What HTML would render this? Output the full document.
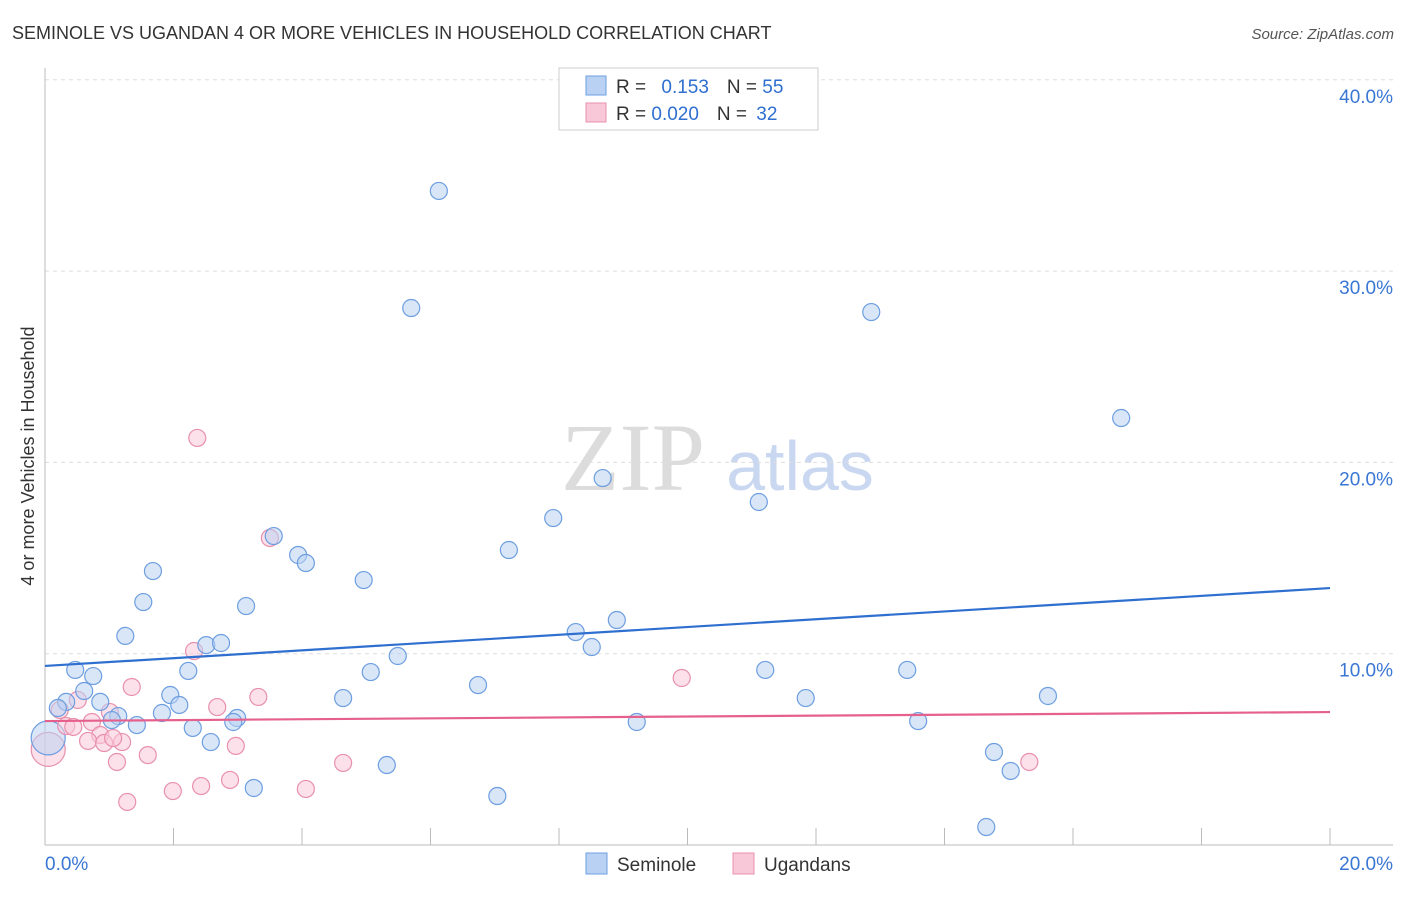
<!DOCTYPE html>
<html><head><meta charset="utf-8"><style>
body{margin:0;background:#fff;font-family:"Liberation Sans",sans-serif}
</style></head><body>
<svg id="c" width="1406" height="892" font-family="Liberation Sans, sans-serif">
<text x="12" y="39" font-size="18" fill="#333">SEMINOLE VS UGANDAN 4 OR MORE VEHICLES IN HOUSEHOLD CORRELATION CHART</text>
<text x="1394" y="39" font-size="15" fill="#555" font-style="italic" text-anchor="end">Source: ZipAtlas.com</text>
<text x="633" y="490" font-size="96" fill="#dcdcdc" style="font-family:'Liberation Serif',serif" text-anchor="middle">ZIP</text>
<text x="800" y="490" font-size="70" fill="#c9d8f0" text-anchor="middle">atlas</text>
<text transform="translate(34,456) rotate(-90)" font-size="18" fill="#333" text-anchor="middle">4 or more Vehicles in Household</text>
<g id="grid"></g><g id="pts"></g><g id="lines"></g>
<g>
<rect x="559" y="68" width="259" height="62" fill="#fff" stroke="#ccc"/>
<rect x="586" y="76" width="20" height="19" fill="#b9d2f3" stroke="#6d9ee0"/>
<rect x="586" y="103" width="20" height="19" fill="#f9c8d8" stroke="#e890ad"/>
<text x="616" y="93" font-size="19" fill="#333">R = <tspan fill="#2e6fd0" dx="10">0.153</tspan><tspan dx="18" fill="#333">N = </tspan><tspan fill="#2e6fd0">55</tspan></text>
<text x="616" y="120" font-size="19" fill="#333">R = <tspan fill="#2e6fd0">0.020</tspan><tspan dx="18" fill="#333">N = </tspan><tspan fill="#2e6fd0" dx="4">32</tspan></text>
</g>
<g>
<rect x="586" y="853" width="21" height="21" fill="#b9d2f3" stroke="#6d9ee0"/>
<text x="617" y="871" font-size="19" fill="#333">Seminole</text>
<rect x="733" y="853" width="21" height="21" fill="#f9c8d8" stroke="#e890ad"/>
<text x="764" y="871" font-size="19" fill="#333">Ugandans</text>
</g>
</svg>
<script>
const blueX=[6.13,5.70,12.86,16.75,8.68,11.11,7.91,7.22,3.56,3.94,4.06,4.96,1.68,1.53,3.13,8.90,8.26,8.51,1.25,2.51,2.74,5.49,0.47,0.75,2.23,5.07,11.21,13.42,6.74,0.61,1.95,4.64,11.84,15.61,0.33,2.09,0.20,0.86,1.14,1.82,1.04,2.99,2.93,1.43,9.21,13.59,2.30,2.58,14.77,5.32,15.03,3.25,7.04,14.65];
const blueY=[34.19,28.07,27.86,22.32,19.18,17.93,17.09,15.42,16.15,15.16,14.74,13.85,14.32,12.70,12.49,11.76,11.13,10.35,10.93,10.45,10.56,9.88,9.15,8.83,9.10,9.04,9.15,9.15,8.36,8.05,7.84,7.68,7.68,7.79,7.48,7.32,7.16,7.48,6.74,6.90,6.53,6.64,6.43,6.27,6.43,6.48,6.12,5.38,4.86,4.18,3.87,2.98,2.56,0.94];
const pinkX=[2.37,3.50,2.32,9.91,1.35,3.32,0.51,2.68,1.01,0.23,0.33,0.73,0.86,0.44,0.67,0.92,1.20,1.06,2.97,1.60,1.12,4.64,15.32,2.88,2.43,1.99,4.06,1.28];
const pinkY=[21.28,16.05,10.14,8.73,8.26,7.74,7.58,7.21,6.95,7.06,6.22,6.43,5.75,6.17,5.44,5.33,5.38,5.59,5.18,4.70,4.34,4.29,4.34,3.40,3.08,2.82,2.93,2.25];
const bigBlue=[0.05,5.6], bigPink=[0.05,5.0];
const blueTrend=[9.36,13.43], pinkTrend=[6.48,6.95];
const yTicks=[10,20,30,40];
const xTickLabels=["0.0%","20.0%"];
const NS='http://www.w3.org/2000/svg';
const sx=v=>45+v*64.25, sy=v=>845-v*19.13;
function mk(t,a,p){const e=document.createElementNS(NS,t);for(const k in a)e.setAttribute(k,a[k]);p.appendChild(e);return e;}
const g=document.getElementById('grid');
yTicks.forEach(v=>{
 const l=mk('line',{x1:45,x2:1393,y1:sy(v),y2:sy(v),stroke:'#ddd','stroke-dasharray':'4,4'},g);
 
 
 const t=mk('text',{x:1393,y:sy(v)+23,'font-size':19,fill:'#3a76d4','text-anchor':'end'},g);
 t.textContent=v.toFixed(1)+'%';
 
 
});
mk('line',{x1:45,x2:45,y1:68,y2:845,stroke:'#bbb'},g);
mk('line',{x1:45,x2:1393,y1:845,y2:845,stroke:'#bbb'},g);
for(let i=0;i<=10;i++){mk('line',{x1:sx(i*2),x2:sx(i*2),y1:828,y2:845,stroke:'#bbb'},g);}
const t0=mk('text',{x:45,y:870,'font-size':19,fill:'#3a76d4'},g);t0.textContent=xTickLabels[0];


const t1=mk('text',{x:1393,y:870,'font-size':19,fill:'#3a76d4','text-anchor':'end'},g);t1.textContent=xTickLabels[1];


const p=document.getElementById('pts');
function dot(x,y,r,fill,stroke,name){const c=mk('circle',{cx:sx(x),cy:sy(y),r:r,fill:fill,'fill-opacity':0.55,stroke:stroke,'stroke-width':1.2},p);
 
 }
dot(bigPink[0],bigPink[1],17,'#f9c8d8','#e890ad','ugandans-point');
dot(bigBlue[0],bigBlue[1],17,'#b9d2f3','#6d9ee0','seminole-point');
pinkX.forEach((x,i)=>dot(x,pinkY[i],8.5,'#f9c8d8','#e890ad','ugandans-point'));
blueX.forEach((x,i)=>dot(x,blueY[i],8.5,'#b9d2f3','#6d9ee0','seminole-point'));
const L=document.getElementById('lines');
const bl=mk('line',{x1:sx(0),x2:sx(20),y1:sy(blueTrend[0]),y2:sy(blueTrend[1]),stroke:'#2e6fd0','stroke-width':2.2},L);


const pl=mk('line',{x1:sx(0),x2:sx(20),y1:sy(pinkTrend[0]),y2:sy(pinkTrend[1]),stroke:'#e5608d','stroke-width':2.2},L);


</script>
</body></html>
